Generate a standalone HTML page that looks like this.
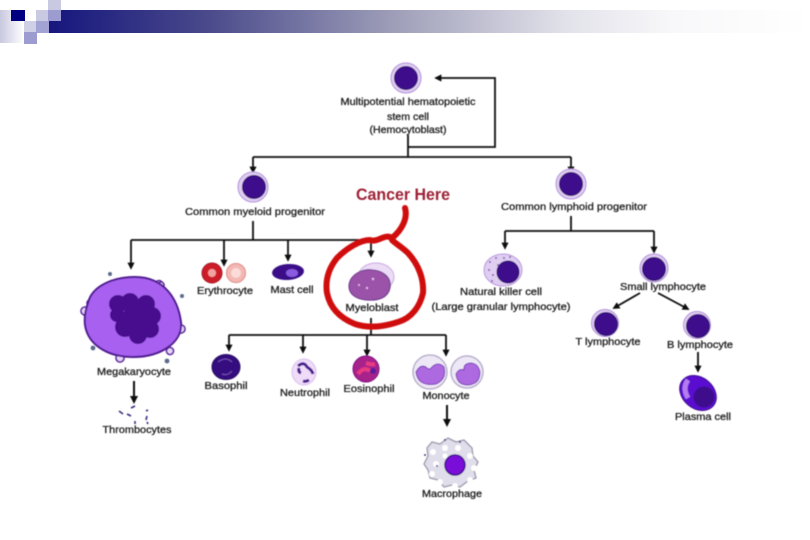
<!DOCTYPE html>
<html><head><meta charset="utf-8"><style>
html,body{margin:0;padding:0;background:#fff}
svg{display:block}
text{font-family:"Liberation Sans",sans-serif;font-size:10px;fill:#222;text-anchor:middle;stroke:#222;stroke-width:.3}
</style></head><body>
<svg width="810" height="540" viewBox="0 0 810 540" xmlns="http://www.w3.org/2000/svg">
<defs>
<linearGradient id="bar" x1="0" x2="1" y1="0" y2="0"><stop offset="0" stop-color="#16167e"/><stop offset=".2" stop-color="#47478a"/><stop offset=".45" stop-color="#9d9db8"/><stop offset=".68" stop-color="#e2e2ea"/><stop offset=".82" stop-color="#f8f8fa"/><stop offset="1" stop-color="#fff"/></linearGradient>
<linearGradient id="lft" x1="0" x2="1" y1="0" y2="0"><stop offset="0" stop-color="#c8c8e0"/><stop offset="1" stop-color="#fff"/></linearGradient>
<marker id="a" markerWidth="4" markerHeight="4" refX="3" refY="2" orient="auto"><path d="M0 0L4 2L0 4Z" fill="#111"/></marker>
<filter id="b" x="-2%" y="-2%" width="104%" height="104%"><feGaussianBlur stdDeviation=".5"/></filter>
</defs>
<rect x="49" y="10" width="761" height="23" fill="url(#bar)"/>
<rect x="0" y="10" width="24" height="33" fill="url(#lft)"/>
<rect x="11" y="10" width="14" height="11" fill="#000080"/>
<rect x="36" y="10" width="13" height="11" fill="#c9c9e2"/>
<rect x="48" y="0" width="13" height="10" fill="#c9c9e2"/>
<rect x="48" y="10" width="13" height="11" fill="#9c9cd0"/>
<rect x="24" y="21" width="12" height="11" fill="#cfcfe6"/>
<rect x="36" y="21" width="13" height="12" fill="#a2a2d4"/>
<rect x="24" y="32" width="13" height="12" fill="#9c9cd0"/>

<g filter="url(#b)">
<g fill="none" stroke="#111" stroke-width="1.8">
<path d="M408 135V157M408 147H495V78H436" marker-end="url(#a)"/>
<path d="M253 157H571"/>
<path d="M253 157V172" marker-end="url(#a)"/>
<path d="M571 157V172" marker-end="url(#a)"/>
<path d="M253 221V240M131 240H371"/>
<path d="M131 240V268" marker-end="url(#a)"/>
<path d="M224 240V265" marker-end="url(#a)"/>
<path d="M288 240V260" marker-end="url(#a)"/>
<path d="M371 240V256" marker-end="url(#a)"/>
<path d="M371 318V335M229 335H446"/>
<path d="M229 335V350" marker-end="url(#a)"/>
<path d="M303 335V352" marker-end="url(#a)"/>
<path d="M367 335V355" marker-end="url(#a)"/>
<path d="M446 335V355" marker-end="url(#a)"/>
<path d="M134 381V402" marker-end="url(#a)" stroke-width="2"/>
<path d="M447 405V425" marker-end="url(#a)" stroke-width="2"/>
<path d="M571 216V231M505 231H654"/>
<path d="M505 231V248" marker-end="url(#a)"/>
<path d="M654 231V252" marker-end="url(#a)"/>
<path d="M640 293L614 308" marker-end="url(#a)"/>
<path d="M658 293L688 309" marker-end="url(#a)"/>
<path d="M698 352V371" marker-end="url(#a)"/>
</g>

<g stroke="#b08fd8" stroke-width="1">
<circle cx="406" cy="78" r="15" fill="#e0cdf2"/><circle cx="406" cy="78" r="11.5" fill="#3d0a8c" stroke="#2a0a6a"/>
<circle cx="253" cy="187" r="15" fill="#e0cdf2"/><circle cx="254" cy="187" r="11.5" fill="#3d0a8c" stroke="#2a0a6a"/>
<circle cx="571" cy="184" r="15" fill="#e0cdf2"/><circle cx="571" cy="184" r="11.5" fill="#3d0a8c" stroke="#2a0a6a"/>
<circle cx="654" cy="268" r="14" fill="#e0cdf2"/><circle cx="654" cy="269" r="11.5" fill="#3d0a8c" stroke="#2a0a6a"/>
<circle cx="605" cy="323" r="13.5" fill="#e0cdf2"/><circle cx="606" cy="324" r="11.5" fill="#3d0a8c" stroke="#2a0a6a"/>
<circle cx="697" cy="325" r="13.5" fill="#e0cdf2"/><circle cx="698" cy="326" r="11.5" fill="#3d0a8c" stroke="#2a0a6a"/>
</g>

<!-- megakaryocyte -->
<g>
<g fill="#e6d4fa" stroke="#5a1c9c" stroke-width="1.6">
<circle cx="85" cy="311" r="4"/><circle cx="90" cy="303" r="3"/><circle cx="159" cy="284" r="3.5"/><circle cx="161" cy="285" r="3"/>
<circle cx="181" cy="329" r="4"/><circle cx="170" cy="351" r="3.5"/><circle cx="120" cy="358" r="4"/>
</g>
<path d="M88 303C92 285 115 277 135 277C165 277 178 300 181 322C183 343 160 357 133 357C108 357 88 345 85 325C84 315 86 309 88 303Z" fill="#a860f0" stroke="#4e1a90" stroke-width="2"/>
<g fill="#46108e"><circle cx="118" cy="304" r="9"/><circle cx="130" cy="302" r="9"/><circle cx="146" cy="304" r="9"/><circle cx="152" cy="316" r="9"/><circle cx="150" cy="329" r="9"/><circle cx="138" cy="335" r="9"/><circle cx="125" cy="327" r="10"/><circle cx="117" cy="315" r="7"/><circle cx="135" cy="318" r="13"/></g>
<g fill="#5c6a8c"><circle cx="110" cy="274" r="2"/><circle cx="182" cy="296" r="2"/><circle cx="93" cy="348" r="2.4"/><circle cx="167" cy="361" r="2.4"/></g>
</g>
<g fill="none" stroke="#3a2a80" stroke-width="1.6"><path d="M119 411l4 3M127 414l4 2M131 408l4-2M146 411l2-1M147 416l-1 4M135 421v3M147 422l1 2"/></g>

<!-- erythrocytes -->
<circle cx="212" cy="273" r="10" fill="#cc1f2a" stroke="#a81520"/><circle cx="212" cy="273" r="4" fill="#f4a0a0"/>
<circle cx="236" cy="273" r="9.5" fill="#f3b8b4" stroke="#e08a86"/><circle cx="236" cy="273" r="5" fill="#fbdcd8"/>
<!-- mast -->
<ellipse cx="288" cy="272" rx="16" ry="8" fill="#3a0f88" transform="rotate(-4 288 272)"/><ellipse cx="292" cy="273" rx="6" ry="4" fill="#8a5ae0"/>
<!-- myeloblast -->
<ellipse cx="376" cy="277" rx="18" ry="14" fill="#ecdcf6" stroke="#c8a8e4"/>
<path d="M349 285C350 275 362 268 373 270C384 271 392 278 390 288C388 298 378 301 366 300C356 299 348 294 349 285Z" fill="#9a52a8" stroke="#6e3a90"/>
<g fill="#e5c0e8"><circle cx="359" cy="285" r="1"/><circle cx="373" cy="279" r="1.2"/><circle cx="367" cy="288" r="1.1"/></g>
<!-- basophil -->
<ellipse cx="226" cy="367" rx="14" ry="12.5" fill="#34107e" stroke="#2a0a60"/>
<path d="M218 362q8-6 14 0M222 374q6 2 10-3" stroke="#7a52b8" fill="none"/>
<!-- neutrophil -->
<ellipse cx="304" cy="372" rx="12" ry="13" fill="#eedcf8" stroke="#d8bfee"/>
<path d="M298 366q6-5 9 1q5 3 6 7M299 368q-1 4 2 5M303 381q3 1 6-1" fill="none" stroke="#4a1a90" stroke-width="3"/>
<!-- eosinophil -->
<circle cx="366" cy="369" r="13" fill="#a8208c" stroke="#7a1080"/>
<path d="M358 374q6-8 12-3M366 363q5 2 9 1" stroke="#e83a80" stroke-width="4" fill="none"/>
<circle cx="373" cy="371" r="3" fill="#5a1a9c"/>
<!-- monocytes -->
<circle cx="430" cy="372" r="17" fill="#eee8f6" stroke="#b8b0cc" stroke-width="1.5"/>
<path d="M416 372q4-8 10-5q3 4 6 0q6-6 12 0q3 12-8 17q-18 3-20-12Z" fill="#ad6ae0" stroke="#7a3ab8"/>
<circle cx="467" cy="372" r="16" fill="#eee8f6" stroke="#b8b0cc" stroke-width="1.5"/>
<path d="M456 374q3-6 8-4q-1-6 6-7q8 0 10 9q0 12-12 13q-11 0-12-11Z" fill="#ad6ae0" stroke="#7a3ab8"/>
<!-- macrophage -->
<path d="M432 442l8 2l8-6l8 4l8-2l8 8l1 8l5 6l-4 8l2 8l-8 3l-8 6l-8-2l-8 2l-6-7l-8-2l-2-8l-4-6l4-8l-1-8Z" fill="#e0deea" stroke="#9c98ac" stroke-width="1.3"/>
<g fill="#fff"><circle cx="433" cy="452" r="3"/><circle cx="445" cy="448" r="3"/><circle cx="458" cy="448" r="3"/><circle cx="470" cy="456" r="3"/><circle cx="436" cy="464" r="3"/><circle cx="474" cy="468" r="3"/><circle cx="432" cy="474" r="3"/><circle cx="445" cy="456" r="2.5"/><circle cx="440" cy="482" r="3"/><circle cx="455" cy="486" r="3"/><circle cx="470" cy="480" r="3"/></g>
<circle cx="455" cy="465" r="10" fill="#7a10d8" stroke="#3d0a8c" stroke-width="1.5"/>
<g fill="#4a3a80"><circle cx="445" cy="440" r="1"/><circle cx="460" cy="442" r="1"/><circle cx="425" cy="455" r="1"/><circle cx="437" cy="466" r="1"/></g>
<!-- NK -->
<ellipse cx="503" cy="270" rx="19" ry="16" fill="#e0cdf2" stroke="#b998dc"/>
<g fill="#7a5ca8"><circle cx="490" cy="262" r="1"/><circle cx="496" cy="258" r="1"/><circle cx="489" cy="270" r="1"/><circle cx="493" cy="275" r="1"/><circle cx="498" cy="265" r="1"/><circle cx="504" cy="258" r="1"/><circle cx="510" cy="257" r="1"/><circle cx="492" cy="281" r="1"/></g>
<circle cx="508" cy="272" r="11" fill="#3d0a8c" stroke="#2a0a6a"/>
<!-- plasma -->
<ellipse cx="698" cy="393" rx="20" ry="15.5" fill="#5a10d0" stroke="#3d0a8c" transform="rotate(40 698 393)"/>
<path d="M688 380q-6 8 0 18" stroke="#b47cf0" stroke-width="5" fill="none"/>
<circle cx="704" cy="397" r="10.5" fill="#3d0a8c"/>

<!-- red -->
<path d="M405 208C408 218 402 230 392 238C385 233 378 243 370 240C360 240 347 248 337 258C329 268 325 280 327 293C330 308 340 318 355 324C370 329 386 326 398 322C412 318 420 306 423 293C424 278 418 264 408 253C402 247 396 244 392 240" fill="none" stroke="#d00a10" stroke-width="6" stroke-linecap="round" stroke-linejoin="round"/>
<text x="403" y="200" style="font-size:17px;font-weight:bold;fill:#9c2034;stroke:none" textLength="94" lengthAdjust="spacingAndGlyphs">Cancer Here</text>

<text x="408" y="105" textLength="135" lengthAdjust="spacingAndGlyphs">Multipotential hematopoietic</text>
<text x="408" y="120" textLength="42" lengthAdjust="spacingAndGlyphs">stem cell</text>
<text x="408" y="133" textLength="77" lengthAdjust="spacingAndGlyphs">(Hemocytoblast)</text>
<text x="255" y="215" textLength="140" lengthAdjust="spacingAndGlyphs">Common myeloid progenitor</text>
<text x="574" y="210" textLength="146" lengthAdjust="spacingAndGlyphs">Common lymphoid progenitor</text>
<text x="225" y="294" textLength="56" lengthAdjust="spacingAndGlyphs">Erythrocyte</text>
<text x="292" y="293" textLength="43" lengthAdjust="spacingAndGlyphs">Mast cell</text>
<text x="372" y="311" textLength="53" lengthAdjust="spacingAndGlyphs">Myeloblast</text>
<text x="501" y="295" textLength="82" lengthAdjust="spacingAndGlyphs">Natural killer cell</text>
<text x="501" y="310" textLength="139" lengthAdjust="spacingAndGlyphs">(Large granular lymphocyte)</text>
<text x="663" y="290" textLength="86" lengthAdjust="spacingAndGlyphs">Small lymphocyte</text>
<text x="608" y="345" textLength="65" lengthAdjust="spacingAndGlyphs">T lymphocyte</text>
<text x="700" y="348" textLength="66" lengthAdjust="spacingAndGlyphs">B lymphocyte</text>
<text x="703" y="420" textLength="56" lengthAdjust="spacingAndGlyphs">Plasma cell</text>
<text x="134" y="375" textLength="74" lengthAdjust="spacingAndGlyphs">Megakaryocyte</text>
<text x="137" y="433" textLength="69" lengthAdjust="spacingAndGlyphs">Thrombocytes</text>
<text x="226" y="389" textLength="43" lengthAdjust="spacingAndGlyphs">Basophil</text>
<text x="305" y="396" textLength="50" lengthAdjust="spacingAndGlyphs">Neutrophil</text>
<text x="369" y="392" textLength="51" lengthAdjust="spacingAndGlyphs">Eosinophil</text>
<text x="446" y="399" textLength="47" lengthAdjust="spacingAndGlyphs">Monocyte</text>
<text x="452" y="497" textLength="60" lengthAdjust="spacingAndGlyphs">Macrophage</text>
</g>
</svg>
</body></html>
